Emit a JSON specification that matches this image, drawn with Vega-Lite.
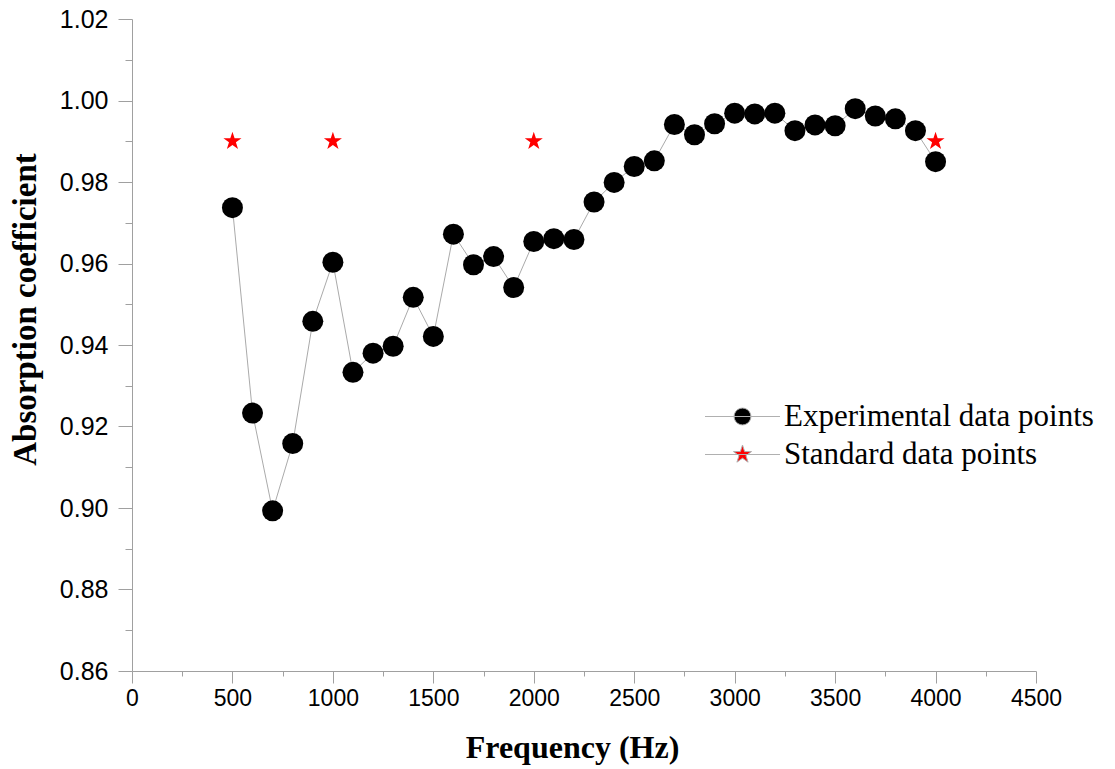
{
  "$schema": "https://vega.github.io/schema/vega-lite/v6.json",
  "autosize": "none",
  "width": 904,
  "height": 652,
  "padding": {"left": 132, "top": 19, "right": 79, "bottom": 98},
  "background": "white",
  "config": {
    "view": {"stroke": null},
    "axis": {
      "domainColor": "#a0a0a0",
      "tickColor": "#a0a0a0",
      "domainWidth": 1,
      "tickWidth": 1,
      "grid": false,
      "labelColor": "black",
      "labelFont": "Liberation Sans",
      "titleFont": "Liberation Serif",
      "titleFontWeight": "bold",
      "titleColor": "black",
      "labelFlush": false,
      "labelOverlap": false,
      "labelBound": false
    },
    "legend": {
      "title": null,
      "orient": "none",
      "legendX": 595,
      "legendY": 382,
      "padding": 0,
      "offset": 0,
      "symbolSize": 441,
      "symbolStrokeWidth": 1,
      "symbolStrokeColor": "#b0b0b0",
      "labelOffset": 26,
      "labelFont": "Liberation Serif",
      "labelFontSize": 31,
      "labelColor": "black",
      "labelLimit": 0,
      "rowPadding": 6
    }
  },
  "data": {
    "values": [
      {"freq": 500, "alpha": 0.9737, "series": "Experimental data points"},
      {"freq": 600, "alpha": 0.9233, "series": "Experimental data points"},
      {"freq": 700, "alpha": 0.8993, "series": "Experimental data points"},
      {"freq": 800, "alpha": 0.9158, "series": "Experimental data points"},
      {"freq": 900, "alpha": 0.9458, "series": "Experimental data points"},
      {"freq": 1000, "alpha": 0.9603, "series": "Experimental data points"},
      {"freq": 1100, "alpha": 0.9333, "series": "Experimental data points"},
      {"freq": 1200, "alpha": 0.9380, "series": "Experimental data points"},
      {"freq": 1300, "alpha": 0.9397, "series": "Experimental data points"},
      {"freq": 1400, "alpha": 0.9517, "series": "Experimental data points"},
      {"freq": 1500, "alpha": 0.9421, "series": "Experimental data points"},
      {"freq": 1600, "alpha": 0.9672, "series": "Experimental data points"},
      {"freq": 1700, "alpha": 0.9597, "series": "Experimental data points"},
      {"freq": 1800, "alpha": 0.9617, "series": "Experimental data points"},
      {"freq": 1900, "alpha": 0.9541, "series": "Experimental data points"},
      {"freq": 2000, "alpha": 0.9654, "series": "Experimental data points"},
      {"freq": 2100, "alpha": 0.9661, "series": "Experimental data points"},
      {"freq": 2200, "alpha": 0.9659, "series": "Experimental data points"},
      {"freq": 2300, "alpha": 0.9751, "series": "Experimental data points"},
      {"freq": 2400, "alpha": 0.9799, "series": "Experimental data points"},
      {"freq": 2500, "alpha": 0.9838, "series": "Experimental data points"},
      {"freq": 2600, "alpha": 0.9852, "series": "Experimental data points"},
      {"freq": 2700, "alpha": 0.9941, "series": "Experimental data points"},
      {"freq": 2800, "alpha": 0.9916, "series": "Experimental data points"},
      {"freq": 2900, "alpha": 0.9943, "series": "Experimental data points"},
      {"freq": 3000, "alpha": 0.9969, "series": "Experimental data points"},
      {"freq": 3100, "alpha": 0.9967, "series": "Experimental data points"},
      {"freq": 3200, "alpha": 0.9969, "series": "Experimental data points"},
      {"freq": 3300, "alpha": 0.9926, "series": "Experimental data points"},
      {"freq": 3400, "alpha": 0.9940, "series": "Experimental data points"},
      {"freq": 3500, "alpha": 0.9938, "series": "Experimental data points"},
      {"freq": 3600, "alpha": 0.9980, "series": "Experimental data points"},
      {"freq": 3700, "alpha": 0.9962, "series": "Experimental data points"},
      {"freq": 3800, "alpha": 0.9955, "series": "Experimental data points"},
      {"freq": 3900, "alpha": 0.9926, "series": "Experimental data points"},
      {"freq": 4000, "alpha": 0.9850, "series": "Experimental data points"},
      {"freq": 500, "alpha": 0.99, "series": "Standard data points"},
      {"freq": 1000, "alpha": 0.99, "series": "Standard data points"},
      {"freq": 2000, "alpha": 0.99, "series": "Standard data points"},
      {"freq": 4000, "alpha": 0.99, "series": "Standard data points"}
    ]
  },
  "encoding": {
    "x": {
      "field": "freq",
      "type": "quantitative",
      "scale": {"domain": [0, 4500], "nice": false, "zero": false},
      "axis": {
        "title": "Frequency (Hz)",
        "titleFontSize": 32,
        "titleX": 440,
        "titleY": 86,
        "titleAlign": "center",
        "titleBaseline": "alphabetic",
        "values": [0, 250, 500, 750, 1000, 1250, 1500, 1750, 2000, 2250, 2500, 2750, 3000, 3250, 3500, 3750, 4000, 4250, 4500],
        "labelExpr": "datum.value % 500 === 0 ? datum.label : ''",
        "format": "d",
        "labelFontSize": 23,
        "labelPadding": 4,
        "tickSize": {"condition": {"test": "datum.value % 500 !== 0", "value": 5}, "value": 12}
      }
    },
    "y": {
      "field": "alpha",
      "type": "quantitative",
      "scale": {"domain": [0.86, 1.02], "nice": false, "zero": false},
      "axis": {
        "title": "Absorption coefficient",
        "titleFontSize": 33,
        "titleX": -97,
        "titleY": 290,
        "titleAlign": "center",
        "titleBaseline": "alphabetic",
        "titleAngle": 270,
        "values": [0.86, 0.87, 0.88, 0.89, 0.9, 0.91, 0.92, 0.93, 0.94, 0.95, 0.96, 0.97, 0.98, 0.99, 1.0, 1.01, 1.02],
        "labelExpr": "round(datum.value * 100) % 2 === 0 ? format(datum.value, '.2f') : ''",
        "labelFontSize": 25,
        "labelPadding": 10,
        "tickSize": {"condition": {"test": "round(datum.value * 100) % 2 === 1", "value": 7}, "value": 14}
      }
    }
  },
  "layer": [
    {
      "transform": [{"filter": "datum.series === 'Experimental data points'"}],
      "mark": {"type": "line", "color": "#aaaaaa", "strokeWidth": 1},
      "encoding": {}
    },
    {
      "mark": {"type": "point", "filled": true, "opacity": 1, "strokeWidth": 0, "size": 441},
      "encoding": {
        "shape": {
          "field": "series",
          "type": "nominal",
          "scale": {
            "domain": ["Experimental data points", "Standard data points"],
            "range": [
              "M-3.57,0L3.57,0M0.8,0A0.8,0.8,0,1,1,-0.8,0A0.8,0.8,0,1,1,0.8,0Z",
              "M-3.57,0L3.57,0M0,-0.905L0.2032,-0.2797L0.8607,-0.2797L0.3288,0.1068L0.532,0.7321L0,0.3457L-0.532,0.7321L-0.3288,0.1068L-0.8607,-0.2797L-0.2032,-0.2797Z"
            ]
          }
        },
        "color": {
          "field": "series",
          "type": "nominal",
          "scale": {
            "domain": ["Experimental data points", "Standard data points"],
            "range": ["#000000", "#ff0000"]
          }
        }
      }
    },
    {
      "transform": [{"filter": "datum.series === 'Experimental data points'"}],
      "mark": {"type": "point", "filled": true, "opacity": 1, "strokeWidth": 0, "size": 441, "color": "#000000", "shape": "circle"},
      "encoding": {}
    }
  ]
}
